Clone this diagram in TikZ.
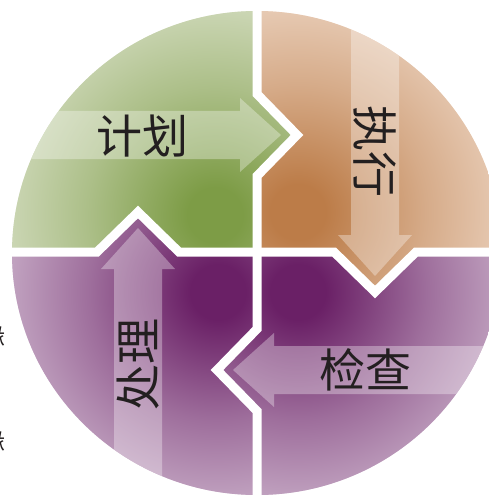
\documentclass[tikz,border=0pt]{standalone}
\usepackage{fontspec}
\newfontfamily\cjk{Noto Sans CJK SC}
\usetikzlibrary{positioning}

\definecolor{gdark}{RGB}{125,156,70}
\definecolor{glight}{RGB}{230,234,218}
\definecolor{odark}{RGB}{188,124,72}
\definecolor{olight}{RGB}{246,230,218}
\definecolor{pdark}{RGB}{106,32,102}
\definecolor{plight}{RGB}{222,206,222}
\definecolor{txtgray}{RGB}{35,31,32}
\colorlet{gmid}{gdark!55!glight}
\colorlet{omid}{odark!55!olight}
\colorlet{pmid}{pdark!55!plight}

\pgfdeclareradialshading{greenfade}{\pgfpoint{0bp}{0bp}}{color(0bp)=(gdark); color(3bp)=(gdark); color(14bp)=(gmid); color(30bp)=(glight); color(50bp)=(glight)}
\pgfdeclareradialshading{orangefade}{\pgfpoint{0bp}{0bp}}{color(0bp)=(odark); color(3bp)=(odark); color(14bp)=(omid); color(30bp)=(olight); color(50bp)=(olight)}
\pgfdeclareradialshading{purplefade}{\pgfpoint{0bp}{0bp}}{color(0bp)=(pdark); color(3bp)=(pdark); color(14bp)=(pmid); color(30bp)=(plight); color(50bp)=(plight)}

\tikzset{
  phasetext/.style={font=\cjk\fontsize{46pt}{48pt}\selectfont, text=txtgray, inner sep=0pt},
  edgetext/.style={font=\cjk\fontsize{24pt}{26pt}\selectfont, text=txtgray, inner sep=0pt},
  arrowband/.style={fill=white, fill opacity=0.33},
  gapline/.style={draw=white, line width=9pt, line join=miter}
}

\begin{document}
\begin{tikzpicture}[x=1pt,y=-1pt]
  \useasboundingbox (0,0) rectangle (488,497);

  % plan quarter
  \begin{scope}
    \clip (257,253) ellipse (245 and 242);
    \clip (257,252) -- (257,176) -- (297,135) -- (257,94) -- (257,-10) -- (-10,-10)
      -- (-10,252) -- (97,252) -- (138,212) -- (179,252) -- cycle;
    \fill[glight] (0,0) rectangle (310,260);
    \shade[shading=greenfade] (215,215) circle (230);
    \fill[arrowband] (-10,111) -- (240,111) -- (240,98) -- (281,135) -- (240,172) -- (240,159) -- (-10,159) -- cycle;
  \end{scope}

  % do quarter
  \begin{scope}
    \clip (257,253) ellipse (245 and 242);
    \clip (257,252) -- (257,176) -- (297,135) -- (257,94) -- (257,-10) -- (510,-10)
      -- (510,252) -- (416,252) -- (375,292) -- (334,252) -- cycle;
    \fill[olight] (250,0) rectangle (510,300);
    \shade[shading=orangefade] (298,212) circle (230);
    \fill[arrowband] (351,-10) -- (351,235) -- (338,235) -- (375,276) -- (412,235) -- (399,235) -- (399,-10) -- cycle;
  \end{scope}

  % check quarter
  \begin{scope}
    \clip (257,253) ellipse (245 and 242);
    \clip (257,252) -- (334,252) -- (375,292) -- (416,252) -- (510,252) -- (510,510)
      -- (257,510) -- (257,411) -- (217,370) -- (257,329) -- cycle;
    \fill[plight] (210,245) rectangle (510,510);
    \shade[shading=purplefade] (298,292) circle (230);
    \fill[arrowband] (510,346) -- (274,346) -- (274,333) -- (233,370) -- (274,407) -- (274,394) -- (510,394) -- cycle;
  \end{scope}

  % act quarter
  \begin{scope}
    \clip (257,253) ellipse (245 and 242);
    \clip (257,252) -- (257,329) -- (217,370) -- (257,411) -- (257,510) -- (-10,510)
      -- (-10,252) -- (97,252) -- (138,212) -- (179,252) -- cycle;
    \fill[plight] (0,200) rectangle (260,510);
    \shade[shading=purplefade] (218,292) circle (230);
    \fill[arrowband] (114,510) -- (114,269) -- (101,269) -- (138,228) -- (175,269) -- (162,269) -- (162,510) -- cycle;
  \end{scope}

  % white gaps
  \begin{scope}
    \clip (257,253) ellipse (247 and 244);
    \draw[gapline] (257,-10) -- (257,94) -- (297,135) -- (257,176) -- (257,329) -- (217,370) -- (257,411) -- (257,510);
    \draw[gapline] (-10,252) -- (97,252) -- (138,212) -- (179,252) -- (334,252) -- (375,292) -- (416,252) -- (510,252);
  \end{scope}

  \node[phasetext] (plan) at (142,136) {计划};
  \node[phasetext, rotate=-90] (do) at (375,152) {执行};
  \node[phasetext] (check) at (365,370) {检查};
  \node[phasetext, rotate=90] (act) at (138,364) {处理};

  \begin{scope}
    \clip (0,0) rectangle (488,497);
    \node[edgetext] (edgeA) at (-6,336) {缘};
    \node[edgetext] (edgeB) at (-6,441) {缘};
  \end{scope}
\end{tikzpicture}
\end{document}
